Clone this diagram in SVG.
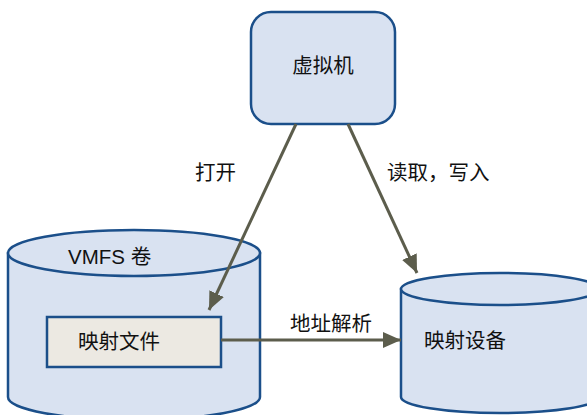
<svg xmlns="http://www.w3.org/2000/svg" width="587" height="415" viewBox="0 0 587 415">
<style>
.shape{fill:#d9e2f1;stroke:#1b4f8a;stroke-width:2.5}
.file{fill:#ece9e2;stroke:#1b4f8a;stroke-width:2.5}
.lbl{font-family:"Liberation Sans","Noto Sans CJK SC",sans-serif;font-size:20.5px;fill:#111}
.conn{stroke:#5c5d4c;stroke-width:3;fill:none}
</style>
<defs>
<marker id="ah" markerUnits="userSpaceOnUse" markerWidth="20" markerHeight="18" refX="18" refY="8" orient="auto">
<path d="M0,0 L18,8 L0,16 Z" fill="#5c5d4c"/>
</marker>
</defs>
<rect width="587" height="415" fill="#fff"/>
<g id="vm">
<rect class="shape" x="251" y="12" width="144" height="112" rx="20" ry="20"/>
<text class="lbl" x="323" y="73" text-anchor="middle">虚拟机</text>
</g>
<g id="vmfs">
<path class="shape" d="M8,253 L8,397 A126,23 0 0 0 260,397 L260,253 Z"/>
<ellipse class="shape" cx="134" cy="253" rx="126" ry="23"/>
<text class="lbl" x="68" y="264">VMFS 卷</text>
</g>
<g id="mapfile">
<rect class="file" x="47" y="317" width="174" height="50"/>
<text class="lbl" x="78" y="349">映射文件</text>
</g>
<g id="device">
<path class="shape" d="M401,289 L401,397 A99,16 0 0 0 599,397 L599,289 Z"/>
<ellipse class="shape" cx="500" cy="289" rx="99" ry="16"/>
<text class="lbl" x="424" y="348">映射设备</text>
</g>
<g id="connectors">
<line class="conn" x1="296" y1="124" x2="209" y2="310" marker-end="url(#ah)"/>
<line class="conn" x1="348" y1="124" x2="417" y2="273" marker-end="url(#ah)"/>
<line class="conn" x1="221" y1="340" x2="401" y2="340" marker-end="url(#ah)"/>
<text class="lbl" x="195" y="180">打开</text>
<text class="lbl" x="387" y="180">读取，写入</text>
<text class="lbl" x="290" y="331">地址解析</text>
</g>
</svg>
